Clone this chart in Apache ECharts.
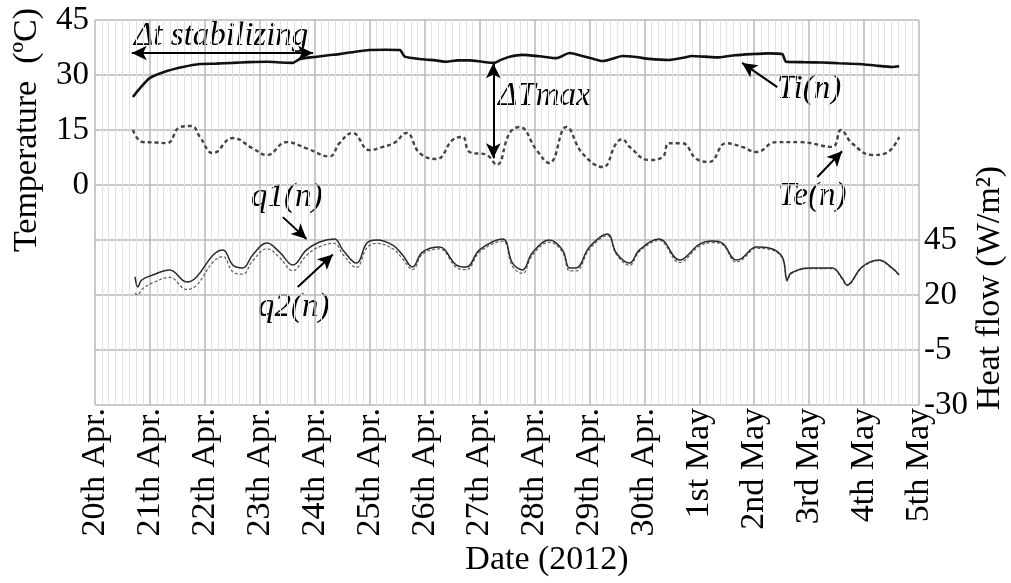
<!DOCTYPE html>
<html>
<head>
<meta charset="utf-8">
<script src="https://cdn.jsdelivr.net/npm/echarts@6/dist/echarts.min.js"></script>
<style>html,body{margin:0;padding:0;background:#fff}#c{width:1011px;height:583px}</style>
</head>
<body>
<div id="c"></div>
<script>
// x positions are days elapsed since 20th Apr. 2012 00:00
var dateLabels = ['20th Apr.','21th Apr.','22th Apr.','23th Apr.','24th Apr.','25th Apr.','26th Apr.','27th Apr.','28th Apr.','29th Apr.','30th Apr.','1st May','2nd May','3rd May','4th May','5th May'];
var tempTicks = [-60, 45, 15];
var flowTicks = [-30, 145, 25];

var tiDays = [0.69,0.82,1.00,1.31,1.60,1.91,2.20,2.51,2.80,3.13,3.40,3.60,3.73,4.04,4.25,4.45,4.58,4.80,5.00,5.30,5.55,5.64,5.96,6.20,6.40,6.60,6.82,7.05,7.27,7.40,7.55,7.78,8.10,8.40,8.64,8.87,9.05,9.24,9.45,9.60,9.85,10.09,10.45,10.70,10.87,11.10,11.36,11.65,11.96,12.25,12.51,12.58,12.90,13.25,13.55,13.90,14.20,14.51,14.64];
var tiValues = [24.0,26.4,29.2,31.1,32.2,33.0,33.1,33.3,33.5,33.6,33.4,33.3,34.4,35.0,35.4,35.7,36.0,36.5,36.8,36.9,36.8,35.0,34.3,34.0,33.6,34.0,34.0,33.6,33.3,34.2,35.0,35.5,35.1,34.6,36.0,35.2,34.5,33.8,34.6,35.2,34.9,34.4,34.1,34.7,35.2,35.0,34.8,35.4,35.7,35.9,35.7,33.6,33.5,33.4,33.2,33.0,32.6,32.2,32.4];

var teDays = [0.69,0.87,1.10,1.31,1.55,1.76,1.91,2.15,2.51,2.87,3.13,3.49,3.85,4.27,4.45,4.69,5.00,5.24,5.45,5.67,5.91,6.22,6.51,6.69,6.82,7.13,7.31,7.55,7.73,8.04,8.27,8.58,8.87,9.24,9.49,9.60,9.73,10.09,10.33,10.45,10.69,10.95,11.18,11.49,11.78,12.04,12.40,12.82,13.42,13.58,13.78,14.15,14.40,14.64];
var teValues = [15.0,11.7,11.6,11.4,15.8,16.1,13.1,8.7,12.8,10.0,8.2,11.7,10.0,7.8,11.4,14.2,9.5,10.4,11.5,14.2,8.7,7.1,12.3,13.1,9.0,8.2,5.5,14.2,15.8,9.5,6.0,15.8,8.7,4.9,11.4,12.5,10.4,6.8,7.6,11.4,11.4,7.1,6.3,11.4,10.4,9.0,11.7,11.7,10.4,15.0,11.4,8.2,8.7,13.1];

var qDays = [0.73,0.78,0.85,1.05,1.36,1.67,1.85,2.15,2.33,2.51,2.69,2.87,3.13,3.36,3.60,3.85,4.09,4.36,4.51,4.76,4.95,5.13,5.42,5.60,5.78,5.96,6.27,6.58,6.76,7.00,7.42,7.60,7.78,7.96,8.27,8.51,8.64,8.76,9.00,9.33,9.49,9.73,9.91,10.27,10.64,11.00,11.24,11.42,11.67,11.78,12.04,12.27,12.51,12.60,12.67,13.00,13.42,13.60,13.69,13.96,14.27,14.51,14.64];
var q1Values = [28.2,23.6,26.8,29.1,31.4,25.9,28.2,38.2,40.5,33.6,32.3,38.2,43.6,39.5,33.6,40.5,44.1,45.5,40.5,34.5,43.6,45.0,42.7,38.2,32.7,39.5,41.8,33.6,32.7,40.5,45.5,34.5,31.4,39.1,45.0,40.5,32.3,32.3,41.8,47.7,39.1,34.5,40.5,45.5,35.9,43.0,44.5,43.6,35.9,36.8,41.8,41.4,37.3,26.8,30.0,32.3,32.3,27.7,24.5,32.7,35.9,32.3,29.1];
var q2Values = [20.9,20.0,22.5,25.5,28.0,22.5,24.5,35.0,37.5,30.5,29.5,35.5,41.0,37.0,31.0,38.0,42.0,43.5,38.5,32.5,41.5,43.5,41.0,36.5,31.5,38.5,41.0,32.5,31.5,39.5,44.5,33.0,29.8,38.0,44.0,39.5,31.0,31.0,40.8,47.0,38.5,33.5,39.8,44.8,34.8,42.2,43.8,43.0,35.0,36.0,41.2,40.8,36.8,26.3,29.6,32.0,32.0,27.4,24.3,32.4,35.6,32.0,28.9];

function pairs(xs, ys){ return xs.map(function(x,i){ return [x, ys[i]]; }); }

var FONT = "Liberation Serif";
var chart = echarts.init(document.getElementById('c'), null, {renderer:'canvas'});
var arrowLine = {color:'#000', width:2, type:'solid'};
function txt(x, y, s, italic, rot){
  var o = {type:'text', x:x, y:y, style:{text:s, fontFamily:FONT, fontSize:italic?33:34, fontStyle:italic?'italic':'normal', fill:'#000', textAlign:italic?'left':'center', textVerticalAlign:'middle'}};
  if (rot) o.rotation = rot;
  return o;
}

chart.setOption({
  animation:false,
  backgroundColor:'#fff',
  grid:{left:95, right:92, top:20, bottom:178, containLabel:false},
  xAxis:{
    type:'value', min:0, max:dateLabels.length-1, interval:1,
    axisLine:{show:false}, axisTick:{show:false},
    axisLabel:{rotate:90, fontFamily:FONT, fontSize:34, color:'#000', margin:3,
      formatter:function(v){ return dateLabels[Math.round(v)] || ''; }},
    splitLine:{show:true, lineStyle:{color:'#b8b8b8', width:1.5}},
    minorTick:{show:false, splitNumber:8},
    minorSplitLine:{show:true, lineStyle:{color:'#e2e2e2', width:1}}
  },
  yAxis:[{
    type:'value', min:tempTicks[0], max:tempTicks[1], interval:tempTicks[2],
    axisLine:{show:false}, axisTick:{show:false},
    axisLabel:{fontFamily:FONT, fontSize:33, color:'#000', margin:6,
      formatter:function(v){ return v>=0 ? String(v) : ''; }},
    splitLine:{show:true, lineStyle:{color:'#b8b8b8', width:1.5}}
  },{
    type:'value', min:flowTicks[0], max:flowTicks[1], interval:flowTicks[2],
    position:'right',
    axisLine:{show:false}, axisTick:{show:false},
    axisLabel:{fontFamily:FONT, fontSize:33, color:'#000', margin:5,
      formatter:function(v){ return v<=45 ? String(v) : ''; }},
    splitLine:{show:false}
  }],
  series:[{
    name:'Ti(n)', type:'line', yAxisIndex:0, data:pairs(tiDays, tiValues),
    showSymbol:false, smooth:0.2, lineStyle:{color:'#111', width:2.6}, z:5,
    markLine:{silent:true, symbol:['arrow','arrow'], symbolSize:[11,15], label:{show:false}, lineStyle:arrowLine,
      data:[
        [{coord:[0.67,36.0]},{coord:[3.97,36.0]}],
        [{coord:[7.25,33.2]},{coord:[7.25,7.3]}]
      ]}
  },{
    name:'Te(n)', type:'line', yAxisIndex:0, data:pairs(teDays, teValues),
    showSymbol:false, smooth:0.45, lineStyle:{color:'#444', width:2.4, type:[4,3]}, z:4,
    markLine:{silent:true, symbol:['none','arrow'], symbolSize:[11,15], label:{show:false}, lineStyle:arrowLine,
      data:[
        [{coord:[12.42,26.7]},{coord:[11.78,33.3]}],
        [{coord:[13.15,2.2]},{coord:[13.6,9.2]}]
      ]}
  },{
    name:'q1(n)', type:'line', yAxisIndex:1, data:pairs(qDays, q1Values),
    showSymbol:false, smooth:0.4, lineStyle:{color:'#2a2a2a', width:1.5}, z:4,
    markLine:{silent:true, symbol:['none','arrow'], symbolSize:[11,15], label:{show:false}, lineStyle:arrowLine,
      data:[
        [{coord:[3.42,55.4]},{coord:[3.85,45.5]}],
        [{coord:[3.69,23.6]},{coord:[4.33,38.4]}]
      ]}
  },{
    name:'q2(n)', type:'line', yAxisIndex:1, data:pairs(qDays, q2Values),
    showSymbol:false, smooth:0.4, lineStyle:{color:'#666', width:1.3, type:[3,2]}, z:3
  }],
  graphic:[
    txt(27, 130, 'Temperature  (ºC)', false, Math.PI/2),
    txt(990, 288, 'Heat flow (W/m²)', false, Math.PI/2),
    txt(547, 560, 'Date (2012)', false),
    txt(134, 36, 'Δt stabilizing', true),
    txt(498, 96, 'ΔTmax', true),
    txt(777, 89, 'Ti(n)', true),
    txt(778, 196, 'Te(n)', true),
    txt(251, 197, 'q1(n)', true),
    txt(258, 307, 'q2(n)', true)
  ]
});
</script>
</body>
</html>
